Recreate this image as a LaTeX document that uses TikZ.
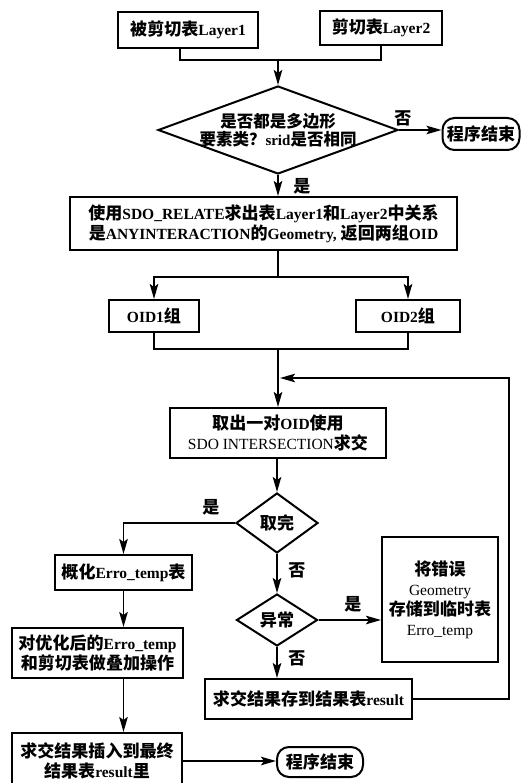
\documentclass[tikz,border=0pt]{standalone}
\usepackage{fontspec}
\setmainfont{Liberation Serif}
\newfontfamily\cjk{Noto Sans CJK SC}[Scale=1.1]
\usetikzlibrary{shapes.geometric,arrows.meta}
\newcommand\zh[1]{{\cjk #1}}
\begin{document}
\begin{tikzpicture}[x=1pt,y=-1pt,
  font=\fontsize{15.5}{20}\selectfont\bfseries,
  pbox/.style={draw, line width=2pt, inner sep=2pt, align=center},
  dbox/.style={draw, diamond, line width=2pt, inner sep=-30pt, align=center},
  term/.style={draw, line width=2pt, rounded corners=12pt, inner sep=2pt, align=center},
  ln/.style={line width=1.9pt},
  arr/.style={line width=1.9pt, -{Stealth[length=15pt,width=8.5pt,inset=3pt]}},
  lbl/.style={inner sep=0pt}]
\useasboundingbox[fill=white] (0,0) rectangle (522,783);

\node[pbox, minimum width=140pt, minimum height=36pt] (L1) at (188,30) {\zh{被剪切表}Layer1};
\node[pbox, minimum width=122pt, minimum height=34pt] (L2) at (381,28) {\zh{剪切表}Layer2};
\node[dbox, minimum width=240pt, minimum height=88pt, font=\fontsize{15}{18}\selectfont\bfseries] (D1) at (278,130) {\zh{是否都是多边形}\\\zh{要素类？}srid\zh{是否相同}};
\node[term, minimum width=77pt, minimum height=32pt] (T1) at (481,134) {\zh{程序结束}};
\node[pbox, minimum width=387pt, minimum height=53pt] (B1) at (263.5,223.5) {\zh{使用}SDO\_RELATE\zh{求出表}Layer1\zh{和}Layer2\zh{中关系}\\\zh{是}ANYINTERACTION\zh{的}Geometry, \zh{返回两组}OID};
\node[pbox, minimum width=90pt, minimum height=32pt] (O1) at (154,316) {OID1\zh{组}};
\node[pbox, minimum width=104pt, minimum height=32pt] (O2) at (408,316) {OID2\zh{组}};
\node[pbox, minimum width=216pt, minimum height=50pt] (B2) at (278,433) {\zh{取出一对}OID\zh{使用}\\{\mdseries SDO INTERSECTION}\zh{求交}};
\node[dbox, minimum width=82pt, minimum height=60pt] (D2) at (277,523) {\zh{取完}};
\node[pbox, minimum width=137pt, minimum height=35pt] (E1) at (123.5,572.5) {\zh{概化}Erro\_temp\zh{表}};
\node[dbox, minimum width=81pt, minimum height=52pt] (D3) at (277,620) {\zh{异常}};
\node[pbox, minimum width=116pt, minimum height=125pt] (S) at (440,599.5) {\zh{将错误}\\{\mdseries Geometry}\\\zh{存储到临时表}\\{\mdseries Erro\_temp}};
\node[pbox, minimum width=207pt, minimum height=40pt] (R) at (308.5,699) {\zh{求交结果存到结果表}result};
\node[pbox, minimum width=171pt, minimum height=50pt] (E2) at (97.5,653) {\zh{对优化后的}Erro\_temp\\\zh{和剪切表做叠加操作}};
\node[pbox, minimum width=170pt, minimum height=56pt] (E3) at (97,761) {\zh{求交结果插入到最终}\\\zh{结果表}result\zh{里}};
\node[term, minimum width=86pt, minimum height=30pt] (T2) at (320,762) {\zh{程序结束}};

% labels
\node[lbl] (n1) at (403,118) {\zh{否}};
\node[lbl] (y1) at (302,186) {\zh{是}};
\node[lbl] (y2) at (211,507) {\zh{是}};
\node[lbl] (n2) at (297,570) {\zh{否}};
\node[lbl] (y3) at (353,604) {\zh{是}};
\node[lbl] (n3) at (297,658) {\zh{否}};

% junctions
\coordinate (J1) at (278,60);
\coordinate (J2) at (278,277);
\coordinate (J3) at (278,349);
\coordinate (F) at (280,378);
\coordinate (FB) at (509,378);

\draw[ln] ([xshift=-8pt]L1.south) |- (J1);
\draw[ln] (L2.south) |- (J1);
\draw[arr] (J1) -- (D1.north);
\draw[arr] (D1.east) -- (D1.east -| T1.west);
\draw[arr] (D1.south) -- (D1.south |- B1.north);
\draw[ln] (B1.south -| J2) -- (J2);
\draw[arr] (J2) -| (O1.north);
\draw[arr] (J2) -| (O2.north);
\draw[ln] (O1.south) |- (J3);
\draw[ln] (O2.south) |- (J3);
\draw[arr] (J3) -- (B2.north);
\draw[arr] (R.east) -- (R.east -| FB) -- (FB) -- (F);
\draw[arr] (B2.south -| D2.north) -- (D2.north);
\draw[arr] (D2.west) -| (E1.north);
\draw[arr] (D2.south) -- (D3.north);
\draw[arr] (D3.east) -- (D3.east -| S.west);
\draw[arr] (D3.south) -- (D3.south |- R.north);
\draw[arr] (E1.south) -- (E1.south |- E2.north);
\draw[arr] (E2.south -| E1.south) -- (E3.north -| E1.south);
\draw[arr] (E3.east) -- (E3.east -| T2.west);
\end{tikzpicture}
\end{document}
